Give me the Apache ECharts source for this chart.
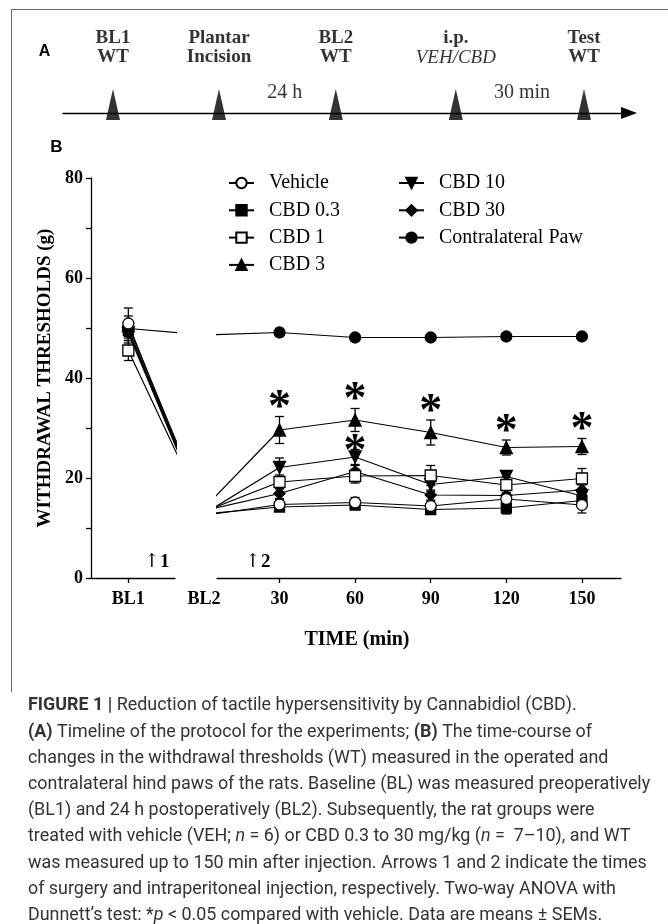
<!DOCTYPE html>
<html><head><meta charset="utf-8">
<script src="https://cdn.jsdelivr.net/npm/echarts@6/dist/echarts.min.js"></script>
<style>html,body{margin:0;padding:0;background:#fff}#c{width:668px;height:924px}</style>
</head><body><div id="c"></div>
<script>
// ---------------- DATA ----------------
const timeLabels = ['BL1', 'BL2', '30', '60', '90', '120', '150'];
const timePositions = [-30, 0, 30, 60, 90, 120, 150];
const rightTicks = [30, 60, 90, 120, 150];
const yTickLabels = [0, 20, 40, 60, 80];

const vehicleMean = [50.9, 12.5, 14.7, 15.1, 14.4, 15.8, 14.6];
const vehicleSem  = [1.5, 1.0, 1.0, 1.0, 1.0, 1.2, 1.6];
const cbd03Mean   = [49.5, 12.8, 14.2, 14.6, 13.7, 14.0, 15.5];
const cbd03Sem    = [1.5, 1.0, 0.8, 0.8, 0.9, 1.2, 1.0];
const cbd1Mean    = [45.5, 13.3, 19.2, 20.4, 20.5, 18.6, 19.9];
const cbd1Sem     = [2.0, 1.0, 1.4, 1.4, 2.0, 1.6, 2.0];
const cbd3Mean    = [50.5, 13.9, 29.6, 31.6, 29.1, 26.1, 26.3];
const cbd3Sem     = [3.5, 1.0, 2.7, 2.3, 2.5, 1.5, 1.6];
const cbd10Mean   = [49.0, 12.8, 22.1, 24.2, 18.7, 20.3, 16.4];
const cbd10Sem    = [1.5, 1.0, 1.9, 1.5, 1.4, 1.1, 1.2];
const cbd30Mean   = [49.8, 13.5, 16.9, 21.3, 16.6, 16.5, 17.6];
const cbd30Sem    = [1.5, 1.0, 1.0, 1.2, 1.0, 1.0, 1.0];
const contraMean  = [49.9, 48.6, 49.1, 48.1, 48.1, 48.3, 48.3];
const contraSem   = [1.0, 0.8, 0.8, 0.6, 0.6, 0.6, 0.6];
const cbd3Sig     = [0, 0, 1, 1, 1, 1, 1];
const cbd10Sig    = [0, 0, 0, 1, 0, 0, 0];

const timelineEvents = [['BL1', 'WT'], ['Plantar', 'Incision'], ['BL2', 'WT'], ['i.p.', 'VEH/CBD'], ['Test', 'WT']];
const timelineEventPos = [8.83, 27.56, 48.2, 69.4, 92.05];
const timelineIntervals = ['24 h', '30 min'];
const timelineIntervalPos = [39.2, 81.1];

const captionLines = [
  '{b|FIGURE 1 |} Reduction of tactile hypersensitivity by Cannabidiol (CBD).',
  '{b|(A)} Timeline of the protocol for the experiments; {b|(B)} The time-course of',
  'changes in the withdrawal thresholds (WT) measured in the operated and',
  'contralateral hind paws of the rats. Baseline (BL) was measured preoperatively',
  '(BL1) and 24 h postoperatively (BL2). Subsequently, the rat groups were',
  'treated with vehicle (VEH; {i|n} = 6) or CBD 0.3 to 30 mg/kg ({i|n} =  7\u201310), and WT',
  'was measured up to 150 min after injection. Arrows 1 and 2 indicate the times',
  'of surgery and intraperitoneal injection, respectively. Two-way ANOVA with',
  'Dunnett\u2019s test: *{i|p} < 0.05 compared with vehicle. Data are means \u00b1 SEMs.'
];

// ---------------- STYLE ----------------
const SERIF = 'Liberation Serif';
const SANS = 'Roboto';
const groups = [
  { name: 'Vehicle',           mean: vehicleMean, sem: vehicleSem, symbol: 'circle',   size: 11, fill: '#fff', rot: 0 },
  { name: 'CBD 0.3',           mean: cbd03Mean,   sem: cbd03Sem,   symbol: 'rect',     size: 10, fill: '#000', rot: 0 },
  { name: 'CBD 1',             mean: cbd1Mean,    sem: cbd1Sem,    symbol: 'rect',     size: 11, fill: '#fff', rot: 0 },
  { name: 'CBD 3',             mean: cbd3Mean,    sem: cbd3Sem,    symbol: 'triangle', size: 12, fill: '#000', rot: 0, sig: cbd3Sig, sigOff: 18 },
  { name: 'CBD 10',            mean: cbd10Mean,   sem: cbd10Sem,   symbol: 'triangle', size: 12, fill: '#000', rot: 180, sig: cbd10Sig, sigOff: 7 },
  { name: 'CBD 30',            mean: cbd30Mean,   sem: cbd30Sem,   symbol: 'diamond',  size: 11, fill: '#000', rot: 0 },
  { name: 'Contralateral Paw', mean: contraMean,  sem: contraSem,  symbol: 'circle',   size: 11, fill: '#000', rot: 0 }
];
const drawOrder = ['CBD 30', 'CBD 10', 'CBD 3', 'CBD 0.3', 'Contralateral Paw', 'CBD 1', 'Vehicle'];

const axisLineStyle = { color: '#000', width: 1.3 };
const tickLabelStyle = { fontFamily: SERIF, fontWeight: 'bold', fontSize: 18, color: '#000' };
const labelMargin = 12;

const xRanges = [[-44.8, -11.5], [5.2, 165.5]];

const series = [];
drawOrder.forEach(n => {
  const g = groups.find(k => k.name === n);
  [0, 1].forEach(gi => {
    series.push({
      type: 'line', name: g.name, xAxisIndex: gi, yAxisIndex: gi,
      data: timePositions.map((x, i) => [x, g.mean[i]]),
      showSymbol: false, symbol: g.symbol, symbolSize: g.size, symbolRotate: g.rot,
      itemStyle: { color: g.fill, borderColor: '#000', borderWidth: 1.3 },
      lineStyle: { color: '#000', width: 1.2 },
      clip: true, z: 2, silent: true
    });
  });
});
[0, 1].forEach(gi => {
  const d = [];
  groups.forEach(g => {
    timePositions.forEach((x, i) => {
      if (x >= xRanges[gi][0] && x <= xRanges[gi][1]) d.push([x, g.mean[i] - g.sem[i], g.mean[i] + g.sem[i]]);
    });
  });
  series.push({
    type: 'custom', xAxisIndex: gi, yAxisIndex: gi, data: d, z: 3, silent: true,
    encode: { x: 0, y: [1, 2] },
    renderItem: (p, api) => {
      const x = api.value(0);
      const t = api.coord([x, api.value(2)]);
      const b = api.coord([x, api.value(1)]);
      const w = 4.5;
      const st = { stroke: '#000', lineWidth: 1.3 };
      return { type: 'group', children: [
        { type: 'line', shape: { x1: t[0], y1: t[1], x2: b[0], y2: b[1] }, style: st },
        { type: 'line', shape: { x1: t[0] - w, y1: t[1], x2: t[0] + w, y2: t[1] }, style: st },
        { type: 'line', shape: { x1: b[0] - w, y1: b[1], x2: b[0] + w, y2: b[1] }, style: st }
      ]};
    }
  });
});
drawOrder.forEach(n => {
  const g = groups.find(k => k.name === n);
  [0, 1].forEach(gi => {
    series.push({
      type: 'scatter', name: g.name, xAxisIndex: gi, yAxisIndex: gi,
      data: timePositions.map((x, i) => [x, g.mean[i]]).filter(p => p[0] >= xRanges[gi][0] && p[0] <= xRanges[gi][1]),
      symbol: g.symbol, symbolSize: g.size, symbolRotate: g.rot,
      itemStyle: { color: g.fill, borderColor: '#000', borderWidth: 1.3, opacity: 1 },
      z: 4, silent: true
    });
  });
});
const starData = [];
groups.forEach(g => {
  if (!g.sig) return;
  g.sig.forEach((s, i) => { if (s) starData.push([timePositions[i], g.mean[i] + g.sem[i], g.sigOff]); });
});
series.push({
  type: 'custom', xAxisIndex: 1, yAxisIndex: 1, data: starData, z: 5, silent: true,
  renderItem: (p, api) => {
    const c = api.coord([api.value(0), api.value(1)]);
    return { type: 'text', x: c[0], y: c[1] - api.value(2) + 11,
      style: { text: '*', fontFamily: SERIF, fontWeight: 'bold', fontSize: 46, fill: '#000', align: 'center', verticalAlign: 'middle' } };
  }
});
series.push({
  type: 'scatter', xAxisIndex: 2, yAxisIndex: 2, silent: true,
  data: timelineEvents.map((e, i) => ({ value: [timelineEventPos[i], 0], lines: e, it: i === 3 })),
  symbol: 'triangle', symbolSize: [14, 31], symbolOffset: [0, -8.5],
  itemStyle: { color: '#000' },
  label: {
    show: true, position: 'top', distance: 22,
    formatter: p => '{b|' + p.data.lines[0] + '}\n{' + (p.data.it ? 'i' : 'b') + '|' + p.data.lines[1] + '}',
    rich: {
      b: { fontFamily: SERIF, fontWeight: 'bold', fontSize: 19, lineHeight: 19, color: '#000' },
      i: { fontFamily: SERIF, fontStyle: 'italic', fontWeight: 'normal', fontSize: 19, lineHeight: 19, color: '#000' }
    }
  }
});
series.push({
  type: 'scatter', xAxisIndex: 2, yAxisIndex: 2, silent: true,
  data: timelineIntervals.map((t, i) => ({ value: [timelineIntervalPos[i], 0], name: t })),
  symbolSize: 0,
  label: { show: true, position: 'top', distance: 10, formatter: p => p.name,
    fontFamily: SERIF, fontSize: 20, lineHeight: 20, color: '#000' }
});

const legendBase = {
  orient: 'vertical', top: 173, padding: 0, itemWidth: 25, itemHeight: 13, itemGap: 7.3,
  selectedMode: false,
  textStyle: { fontFamily: SERIF, fontSize: 20, lineHeight: 20, color: '#000', padding: [0, 0, 0, 10] }
};

const option = {
  animation: false,
  backgroundColor: '#fff',
  grid: [
    { left: 91, top: 178, width: 84, height: 400 },
    { left: 217, top: 178, width: 404, height: 400 },
    { left: 63, top: 70, width: 566, height: 43 }
  ],
  xAxis: [
    { gridIndex: 0, type: 'value', min: xRanges[0][0], max: xRanges[0][1],
      axisLine: { show: true, onZero: false, lineStyle: axisLineStyle },
      axisTick: { show: true, customValues: [timePositions[0]], length: 5, lineStyle: axisLineStyle },
      axisLabel: Object.assign({ customValues: [timePositions[0]], margin: labelMargin,
        formatter: v => timeLabels[timePositions.indexOf(v)] }, tickLabelStyle),
      splitLine: { show: false } },
    { gridIndex: 1, type: 'value', min: xRanges[1][0], max: xRanges[1][1],
      axisLine: { show: true, onZero: false, lineStyle: axisLineStyle },
      axisTick: { show: true, customValues: rightTicks, length: 5, lineStyle: axisLineStyle },
      axisLabel: Object.assign({ customValues: rightTicks, margin: labelMargin,
        formatter: v => timeLabels[timePositions.indexOf(v)] }, tickLabelStyle),
      splitLine: { show: false } },
    { gridIndex: 2, type: 'value', min: 0, max: 100,
      axisLine: { show: true, onZero: false, symbol: ['none', 'triangle'], symbolSize: [12, 16], lineStyle: axisLineStyle },
      axisTick: { show: false }, axisLabel: { show: false }, splitLine: { show: false } }
  ],
  yAxis: [
    { gridIndex: 0, type: 'value', min: 0, max: 80, interval: 10,
      name: 'WITHDRAWAL THRESHOLDS (g)', nameLocation: 'middle', nameGap: 36, nameRotate: 90,
      nameTextStyle: { fontFamily: SERIF, fontWeight: 'bold', fontSize: 19, color: '#000' },
      axisLine: { show: true, lineStyle: axisLineStyle },
      axisTick: { show: true, length: 5, lineStyle: axisLineStyle },
      axisLabel: Object.assign({ customValues: yTickLabels, margin: 8 }, tickLabelStyle),
      splitLine: { show: false } },
    { gridIndex: 1, type: 'value', min: 0, max: 80, show: false, splitLine: { show: false } },
    { gridIndex: 2, type: 'value', min: 0, max: 10, show: false, splitLine: { show: false } }
  ],
  legend: [
    Object.assign({ left: 228, data: ['Vehicle', 'CBD 0.3', 'CBD 1', 'CBD 3'] }, legendBase),
    Object.assign({ left: 398, data: ['CBD 10', 'CBD 30', 'Contralateral Paw'] }, legendBase)
  ],
  series: series
};

const chart = echarts.init(document.getElementById('c'));
chart.setOption(option);

const ctx = document.createElement('canvas').getContext('2d');
ctx.font = '16px ' + SANS;
const capWidth = ctx.measureText(captionLines[3]).width;
const capSize = Math.round(16 * 622 / capWidth * 10) / 10;
const capColor = '#333';
const capRich = {
  b: { fontFamily: SANS, fontSize: capSize, fontWeight: 'bold', fill: capColor },
  i: { fontFamily: SANS, fontSize: capSize, fontStyle: 'italic', fill: capColor }
};
const graphics = [];
graphics.push({ type: 'line', shape: { x1: 11, y1: 9.5, x2: 668, y2: 9.5 }, style: { stroke: '#666', lineWidth: 1 }, silent: true });
graphics.push({ type: 'line', shape: { x1: 11.5, y1: 9, x2: 11.5, y2: 692 }, style: { stroke: '#666', lineWidth: 1 }, silent: true });
graphics.push({ type: 'text', x: 44.5, y: 52, style: { text: 'A', fontFamily: 'Liberation Sans', fontWeight: 'bold', fontSize: 16, fill: '#000', align: 'center', verticalAlign: 'middle' } });
graphics.push({ type: 'text', x: 56.5, y: 147, style: { text: 'B', fontFamily: 'Liberation Sans', fontWeight: 'bold', fontSize: 17, fill: '#000', align: 'center', verticalAlign: 'middle' } });
const bl2x = chart.convertToPixel({ xAxisIndex: 1 }, timePositions[1]);
graphics.push({ type: 'text', x: bl2x, y: 578 + labelMargin, style: { text: timeLabels[1], fontFamily: SERIF, fontWeight: 'bold', fontSize: 18, fill: '#000', align: 'center', verticalAlign: 'top' } });
graphics.push({ type: 'text', x: 357, y: 640, style: { text: 'TIME (min)', fontFamily: SERIF, fontWeight: 'bold', fontSize: 20, fill: '#000', align: 'center', verticalAlign: 'middle' } });
const arrowRich = {
  a: { fontFamily: 'DejaVu Serif', fontSize: 19, fill: '#000' },
  n: { fontFamily: SERIF, fontWeight: 'bold', fontSize: 19, fill: '#000' }
};
graphics.push({ type: 'text', x: 144, y: 562, style: { text: '{a|\u2191}{n|1}', rich: arrowRich, verticalAlign: 'middle' } });
graphics.push({ type: 'text', x: 245, y: 562, style: { text: '{a|\u2191}{n|2}', rich: arrowRich, verticalAlign: 'middle' } });
captionLines.forEach((line, i) => {
  graphics.push({ type: 'text', x: 28, y: 706 + i * 26.2, style: { text: line, fontFamily: SANS, fontSize: capSize, fill: capColor, verticalAlign: 'middle', rich: capRich } });
});
chart.setOption({ graphic: graphics });
</script></body></html>
